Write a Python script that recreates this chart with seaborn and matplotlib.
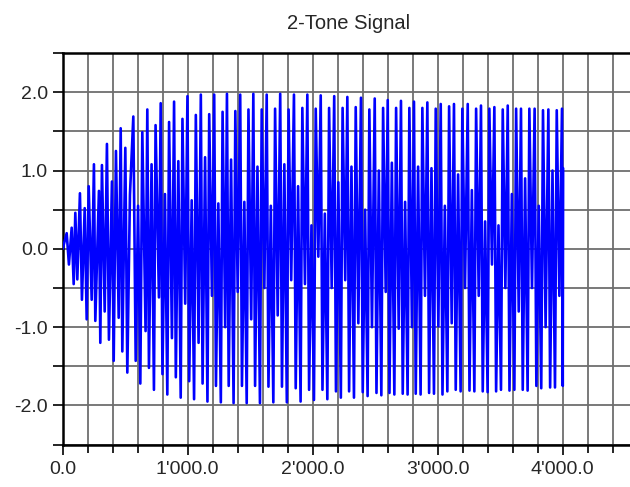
import numpy as np
import pandas as pd
import matplotlib
matplotlib.use("Agg")
import matplotlib.pyplot as plt
import seaborn as sns
from matplotlib.ticker import MultipleLocator, FuncFormatter

# signal vertices (sample index, amplitude)
sample_idx = [
    0, 32, 50, 72, 88, 101, 117, 138, 154, 176, 192, 208, 232, 250, 261,
    290, 301, 314, 336, 354, 370, 394, 408, 426, 448, 464, 477, 501, 517, 538, 565,
    584, 603, 621, 637, 663,
    677, 690, 711, 730, 743, 770,
    784, 798, 818, 837, 851, 874,
    891, 905, 925, 944, 958, 980,
    998, 1012, 1032, 1051, 1065, 1087,
    1105, 1119, 1139, 1158, 1172, 1194,
    1212, 1226, 1245, 1265, 1279, 1300,
    1314, 1328, 1347, 1367, 1381, 1400,
    1420, 1434, 1453, 1472, 1486, 1508,
    1525, 1539, 1558, 1578, 1592, 1613,
    1632, 1646, 1665, 1685, 1699, 1720,
    1740, 1754, 1773, 1793, 1807, 1828,
    1850, 1864, 1883, 1903, 1917, 1938,
    1957, 1971, 1990, 2010, 2024, 2045,
    2064, 2078, 2097, 2117, 2131, 2152,
    2172, 2186, 2205, 2225, 2239, 2260,
    2277, 2291, 2310, 2330, 2344, 2365,
    2386, 2400, 2419, 2439, 2453, 2474,
    2496, 2510, 2529, 2549, 2563, 2584,
    2600, 2614, 2633, 2653, 2667, 2688,
    2706, 2720, 2739, 2759, 2773, 2794,
    2810, 2824, 2843, 2863, 2877, 2898,
    2917, 2931, 2950, 2970, 2984, 3005,
    3024, 3038, 3057, 3077, 3091, 3112,
    3130, 3144, 3163, 3183, 3197, 3218,
    3240, 3254, 3273, 3293, 3307, 3328,
    3346, 3360, 3379, 3399, 3413, 3434,
    3453, 3467, 3486, 3506, 3520, 3541,
    3560, 3574, 3593, 3613, 3627, 3648,
    3666, 3680, 3699, 3719, 3733, 3754,
    3775, 3789, 3808, 3828, 3842, 3863,
    3885, 3899, 3918, 3938, 3952, 3973,
    3994, 4000, 4003,
]
amplitude = [
    0.0, 0.2, -0.2, 0.27, -0.45, 0.46, -0.39, 0.71, -0.65, 0.52, -0.9, 0.8, -0.65, 1.08, -0.92,
    0.74, -1.2, 1.07, -0.8, 1.34, -1.16, 0.86, -1.43, 1.25, -0.88, 1.54, -1.31, 1.29, -1.58, 0.69, 1.69,
    -1.43, 0.55, -1.72, 1.49, -1.05,
    1.78, -1.52, 1.08, -1.8, 1.58, -0.62,
    1.86, -1.6, 0.7, -1.86, 1.62, -1.14,
    1.88, -1.64, 1.12, -1.9, 1.66, -0.7,
    1.95, -1.69, 0.62, -1.92, 1.71, -1.2,
    1.97, -1.72, 1.17, -1.95, 1.72, -0.6,
    1.97, -1.75, 0.58, -1.96, 1.75, -1.0,
    1.98, -1.75, 1.14, -1.97, 1.76, -0.55,
    1.97, -1.75, 0.6, -1.97, 1.78, -0.9,
    1.98, -1.75, 1.05, -1.97, 1.78, -0.5,
    1.97, -1.76, 0.55, -1.96, 1.79, -0.85,
    1.98, -1.76, 1.08, -1.96, 1.78, -0.4,
    1.97, -1.78, 0.8, -1.95, 1.8, -0.45,
    1.97, -1.8, 0.3, -1.93, 1.79, -0.1,
    1.96, -1.8, 0.45, -1.92, 1.8, -0.5,
    1.95, -1.82, 0.85, -1.9, 1.8, -0.4,
    1.94, -1.82, 1.05, -1.9, 1.81, -0.95,
    1.93, -1.83, 0.5, -1.88, 1.78, -1.0,
    1.92, -1.84, 1.0, -1.87, 1.8, -0.55,
    1.9, -1.84, 1.1, -1.86, 1.8, -1.02,
    1.89, -1.85, 0.6, -1.86, 1.8, -1.0,
    1.88, -1.85, 1.05, -1.86, 1.8, -0.6,
    1.87, -1.84, 1.03, -1.85, 1.79, -0.99,
    1.85, -1.86, 0.55, -1.82, 1.82, -0.95,
    1.85, -1.8, 0.95, -1.82, 1.79, -0.5,
    1.85, -1.81, 0.75, -1.82, 1.79, -0.6,
    1.83, -1.82, 0.35, -1.83, 1.79, -0.2,
    1.81, -1.82, 0.3, -1.8, 1.78, -0.5,
    1.83, -1.81, 0.7, -1.8, 1.79, -0.8,
    1.79, -1.8, 0.9, -1.81, 1.79, -0.5,
    1.79, -1.75, 0.55, -1.78, 1.77, -1.0,
    1.78, -1.77, 1.0, -1.77, 1.77, -0.6,
    1.79, -1.75, 1.03,
]

title = "2-Tone Signal"

df = pd.DataFrame({"sample": sample_idx, "signal": amplitude})

sns.set_style("white")
plt.rcParams["font.family"] = ["Liberation Sans", "DejaVu Sans"]

fig = plt.figure(figsize=(6.3, 4.87), dpi=100)
ax = fig.add_axes([0.0995, 0.087, 0.9005, 0.804])

sns.lineplot(data=df, x="sample", y="signal", color="#0000ff", linewidth=1.9,
             sort=False, estimator=None, ax=ax, zorder=3)

ax.set_xlim(0, 4538)
ax.set_ylim(-2.5, 2.5)

ax.xaxis.set_major_locator(MultipleLocator(1000))
ax.xaxis.set_minor_locator(MultipleLocator(200))
ax.yaxis.set_major_locator(MultipleLocator(1.0))
ax.yaxis.set_minor_locator(MultipleLocator(0.5))
ax.xaxis.set_major_formatter(FuncFormatter(lambda v, p: f"{v:,.1f}".replace(",", "'")))
ax.yaxis.set_major_formatter(FuncFormatter(lambda v, p: f"{v:.1f}"))

ax.grid(True, which="both", color="#6e6e6e", linewidth=1.3)
ax.set_axisbelow(True)

for side in ["left", "top", "bottom"]:
    ax.spines[side].set_color("black")
    ax.spines[side].set_linewidth(1.8)
ax.spines["right"].set_visible(False)

ax.tick_params(axis="y", which="both", left=True, length=7.5, width=1.2,
               color="black", direction="out", labelsize=14, pad=3)
ax.tick_params(axis="x", which="minor", bottom=True, length=5.5, width=1.2,
               color="black", direction="out")
ax.tick_params(axis="x", which="major", bottom=True, length=7.5, width=1.2,
               color="black", direction="out", labelsize=14, pad=4)

ax.set_xlabel("")
ax.set_ylabel("")
fig.text(0.553, 0.951, title, ha="center", va="center", fontsize=14.5)

fig.savefig("out.png", dpi=100)
